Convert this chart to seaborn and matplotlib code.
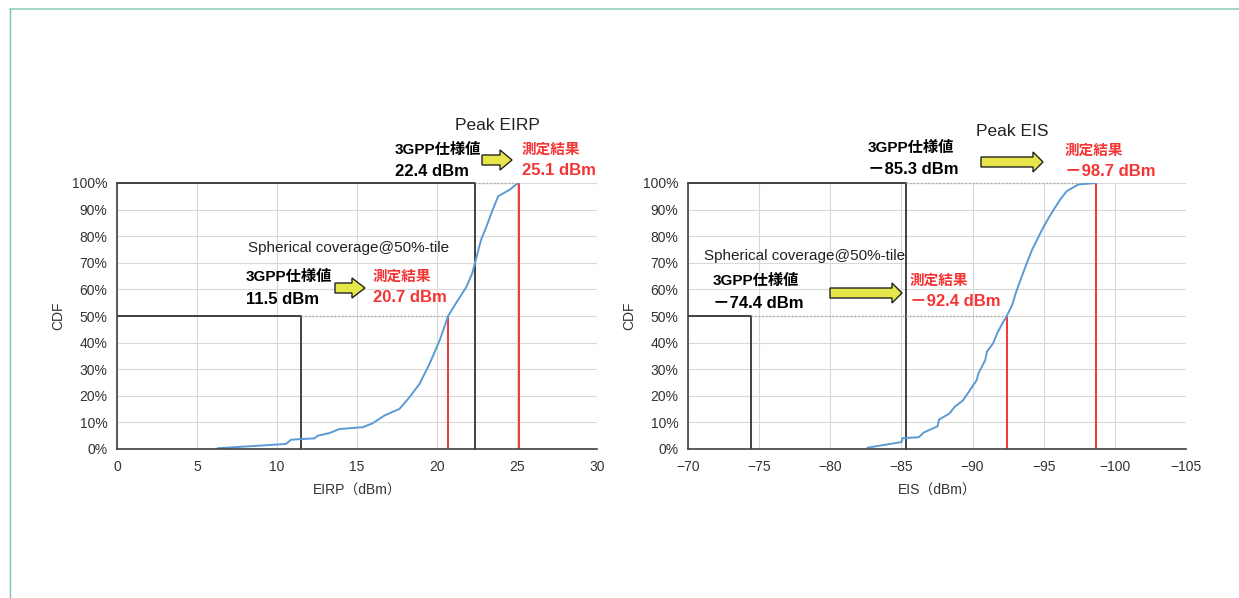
import matplotlib
matplotlib.use("Agg")
import matplotlib.pyplot as plt
from matplotlib.lines import Line2D
from matplotlib.patches import Polygon
from matplotlib.ticker import PercentFormatter
import numpy as np
import pandas as pd
import seaborn as sns

# EIRP CDF curve (dBm, cumulative fraction)
eirp_x = [6.3, 8.5, 10.56, 10.88, 12.34, 12.55, 13.28, 13.9, 15.37, 15.99, 16.72,
          17.66, 18.29, 18.91, 19.54, 20.17, 20.7, 21.11, 21.84, 22.2, 22.45,
          22.75, 23.09, 23.4, 23.82, 24.55, 25.0, 25.1]
eirp_cdf = [0.003, 0.011, 0.019, 0.035, 0.040, 0.050, 0.060, 0.075, 0.082, 0.097, 0.126,
            0.151, 0.195, 0.245, 0.321, 0.409, 0.50, 0.541, 0.61, 0.66, 0.717,
            0.786, 0.836, 0.887, 0.95, 0.975, 0.997, 1.0]

# EIS CDF curve
eis_x = [-82.61, -85.01, -85.08, -86.21, -86.57, -87.53, -87.65, -88.37, -88.73,
         -89.33, -89.81, -90.29, -90.41, -90.89, -91.01, -91.44, -91.73, -92.09,
         -92.4, -92.79, -93.03, -93.37, -93.72, -94.18, -94.53, -94.88, -95.34,
         -95.69, -96.15, -96.61, -97.42, -98.58, -98.7]
eis_cdf = [0.005, 0.026, 0.041, 0.044, 0.062, 0.085, 0.111, 0.133, 0.158,
           0.183, 0.221, 0.259, 0.284, 0.334, 0.366, 0.397, 0.435, 0.472,
           0.50, 0.542, 0.585, 0.636, 0.686, 0.749, 0.786, 0.824, 0.868,
           0.899, 0.937, 0.969, 0.994, 1.0, 1.0]

# spec / measured values: (50%-tile spec, 50%-tile measured, peak spec, peak measured)
eirp_vals = [11.5, 20.7, 22.4, 25.1]
eis_vals = [-74.4, -92.4, -85.3, -98.7]
eirp_labels = ["11.5 dBm", "20.7 dBm", "22.4 dBm", "25.1 dBm"]
eis_labels = ["－74.4 dBm", "－92.4 dBm", "－85.3 dBm", "－98.7 dBm"]

sns.set_theme(style="white")
plt.rcParams["font.family"] = ["Liberation Sans", "Noto Sans CJK JP"]

W, H = 1239, 598
fig = plt.figure(figsize=(W / 100, H / 100), dpi=100)
ax1 = fig.add_axes([117 / W, 1 - 449 / H, 480 / W, 266 / H])
ax2 = fig.add_axes([688 / W, 1 - 449 / H, 498 / W, 266 / H])

BLUE = "#5B9BD5"
RED = "#F53535"
DARK = "#404040"


def style(ax, xlim, xticks, xlabel):
    ax.set_xlim(*xlim)
    ax.set_ylim(0, 1)
    ax.set_xticks(xticks)
    ax.set_yticks(np.arange(0, 1.01, 0.1))
    ax.yaxis.set_major_formatter(PercentFormatter(1.0, decimals=0))
    ax.grid(True, color="#D9D9D9", lw=0.8)
    ax.set_axisbelow(True)
    for s in ["top", "right"]:
        ax.spines[s].set_visible(False)
    for s in ["left", "bottom"]:
        ax.spines[s].set_color(DARK)
        ax.spines[s].set_linewidth(1.2)
    ax.tick_params(length=0, labelsize=10, labelcolor="#333333")
    ax.tick_params(axis="x", pad=8)
    ax.tick_params(axis="y", pad=7)
    ax.set_xlabel(xlabel, fontsize=10, color="#333333", labelpad=7)
    ax.set_ylabel("CDF", fontsize=10, color="#333333", labelpad=5)


def draw(ax, xs, ys, vals, x0):
    s50, m50, spk, mpk = vals
    ax.plot([x0, spk, spk], [1, 1, 0], color=DARK, lw=1.4, clip_on=False)
    ax.plot([x0, s50, s50], [0.5, 0.5, 0], color=DARK, lw=1.4)
    ax.plot([s50, m50], [0.5, 0.5], color="#A6A6A6", lw=1, ls=":")
    ax.plot([spk, mpk], [1, 1], color="#A6A6A6", lw=1, ls=":", clip_on=False)
    ax.plot([m50, m50], [0, 0.5], color=RED, lw=1.4)
    ax.plot([mpk, mpk], [0, 1], color=RED, lw=1.4)
    df = pd.DataFrame({"x": xs, "cdf": ys})
    sns.lineplot(data=df, x="x", y="cdf", ax=ax, color=BLUE, lw=1.4,
                 estimator=None, sort=False)


draw(ax1, eirp_x, eirp_cdf, eirp_vals, 0)
draw(ax2, eis_x, eis_cdf, eis_vals, -70)
style(ax1, (0, 30), range(0, 31, 5), "EIRP（dBm）")
style(ax2, (-70, -105), range(-70, -106, -5), "EIS（dBm）")


def put(x, y, s, **kw):
    fig.text(x / W, 1 - y / H, s, va="center", **kw)


def arrow(x0, x1, yc, hl):
    pts = [(x0, yc - 5), (x1 - hl, yc - 5), (x1 - hl, yc - 10), (x1, yc),
           (x1 - hl, yc + 10), (x1 - hl, yc + 5), (x0, yc + 5)]
    pts = [(px / 100, (H - py) / 100) for px, py in pts]
    fig.add_artist(Polygon(pts, closed=True, transform=fig.dpi_scale_trans,
                           fc="#E6E64A", ec="#222222", lw=1))


def block(xl, yl, xr, yr, labels, a):
    put(xl, yl, "3GPP仕様値", fontsize=11, fontweight="bold", color="black")
    put(xl, yl + 22, labels[0], fontsize=12, fontweight="bold", color="black")
    put(xr, yr, "測定結果", fontsize=10.5, fontweight="bold", color=RED)
    put(xr, yr + 21, labels[1], fontsize=12, fontweight="bold", color=RED)
    arrow(*a)


# left chart annotations
put(497, 125, "Peak EIRP", fontsize=12.5, ha="center", color="#222222")
block(395, 150, 522, 150, eirp_labels[2:], (482, 512, 160, 12))
put(248, 248, "Spherical coverage@50%-tile", fontsize=11, color="#222222")
block(246, 277, 373, 277, eirp_labels[:2], (335, 365, 288, 13))

# right chart annotations
put(1012, 131, "Peak EIS", fontsize=12.5, ha="center", color="#222222")
block(868, 148, 1065, 151, eis_labels[2:], (981, 1043, 162, 10))
put(704, 256, "Spherical coverage@50%-tile", fontsize=11, color="#222222")
block(713, 281, 910, 281, eis_labels[:2], (830, 902, 293, 10))

# slide frame
fig.add_artist(Line2D([10 / W, 1], [1 - 9 / H, 1 - 9 / H], color="#A8D5CB", lw=1.5))
fig.add_artist(Line2D([10 / W, 10 / W], [0, 1 - 9 / H], color="#7DBFB9", lw=1))

fig.savefig("out.png", dpi=100, facecolor="white")
